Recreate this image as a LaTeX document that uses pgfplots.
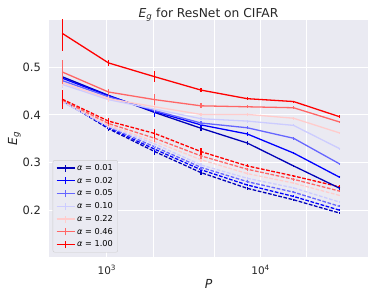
\documentclass[border=0pt]{standalone}
\usepackage{pgfplots}
\usepackage{pgfplotstable}
\pgfplotsset{compat=1.18}
\usepackage{fontspec}
\setmainfont{DejaVu Sans}
\definecolor{bgcol}{HTML}{EAEAF2}
\definecolor{txtcol}{HTML}{262626}
\definecolor{cmapA}{HTML}{0000B8}
\definecolor{cmapB}{HTML}{0000FF}
\definecolor{cmapC}{HTML}{6666FF}
\definecolor{cmapD}{HTML}{CCCCFF}
\definecolor{cmapE}{HTML}{FFCCCC}
\definecolor{cmapF}{HTML}{FF6666}
\definecolor{cmapG}{HTML}{FF0000}

\pgfplotstableread{
P     a1    e1    a2    e2    a3    e3    a4    e4    a5    e5    a6    e6    a7    e7
512   0.480 0.008 0.477 0.008 0.472 0.008 0.464 0.008 0.468 0.010 0.490 0.025 0.571 0.038
1024  0.441 0.004 0.440 0.004 0.438 0.004 0.432 0.005 0.434 0.006 0.448 0.007 0.509 0.006
2048  0.405 0.006 0.407 0.012 0.409 0.005 0.412 0.005 0.417 0.006 0.432 0.012 0.480 0.011
4096  0.372 0.006 0.379 0.005 0.383 0.004 0.392 0.003 0.401 0.004 0.419 0.005 0.452 0.005
8192  0.341 0.004 0.360 0.005 0.373 0.003 0.387 0.003 0.401 0.003 0.417 0.003 0.434 0.003
16384 0.293 0.002 0.320 0.002 0.351 0.003 0.378 0.002 0.393 0.003 0.415 0.003 0.428 0.002
32768 0.246 0.003 0.269 0.002 0.297 0.002 0.329 0.002 0.362 0.002 0.385 0.002 0.396 0.003
}\solid

\pgfplotstableread{
P     a1    e1    a2    e2    a3    e3    a4    e4    a5    e5    a6    e6    a7    e7
512   0.431 0.012 0.430 0.012 0.428 0.012 0.427 0.012 0.429 0.014 0.431 0.016 0.433 0.020
1024  0.371 0.004 0.373 0.004 0.375 0.004 0.376 0.005 0.378 0.005 0.382 0.006 0.387 0.006
2048  0.323 0.008 0.328 0.007 0.333 0.006 0.339 0.006 0.344 0.006 0.351 0.008 0.361 0.010
4096  0.279 0.006 0.285 0.005 0.290 0.005 0.295 0.004 0.306 0.004 0.314 0.006 0.323 0.007
8192  0.246 0.003 0.253 0.003 0.260 0.003 0.267 0.003 0.277 0.003 0.286 0.003 0.293 0.003
16384 0.222 0.002 0.229 0.002 0.238 0.002 0.247 0.002 0.257 0.002 0.265 0.003 0.272 0.003
32768 0.194 0.002 0.200 0.002 0.208 0.002 0.217 0.002 0.231 0.002 0.240 0.002 0.249 0.003
}\dashed

\begin{document}
\begin{tikzpicture}
\begin{axis}[
  scale only axis,
  width=319bp, height=237bp,
  xmode=log,
  xmin=420, xmax=50000,
  ymin=0.102, ymax=0.599,
  axis background/.style={fill=bgcol},
  axis line style={draw=none},
  tick style={draw=none},
  minor tick style={draw=none},
  xmajorgrids, ymajorgrids,
  grid style={white, line width=0.9pt},
  xtick={1000,10000},
  xticklabels={10\textsuperscript{3},10\textsuperscript{4}},
  extra x ticks={2000,5000,20000},
  extra x tick labels={},
  extra x tick style={grid=major},
  ytick={0.2,0.3,0.4,0.5},
  yticklabels={0.2,0.3,0.4,0.5},
  yticklabel style={font=\fontsize{11.5}{13}\selectfont, text=txtcol, anchor=east, inner sep=0pt, xshift=-8bp},
  xticklabel style={font=\fontsize{10.5}{12}\selectfont, text=txtcol, anchor=base, yshift=-17bp},
  xlabel={\textit{P}},
  xlabel style={at={(axis description cs:0.5,-0.1308)}, anchor=base, font=\fontsize{12.5}{14}\selectfont, text=txtcol},
  ylabel={\textit{E}\textsubscript{\textit{g}}},
  ylabel style={at={(axis description cs:-0.1003,0.5)}, anchor=base, font=\fontsize{12.5}{14}\selectfont, text=txtcol},
  legend cell align=left,
  legend style={at={(axis description cs:0.0116,0.019)}, anchor=south west,
    fill=bgcol, draw=black!20, rounded corners=2pt,
    font=\fontsize{8.2}{9.8}\selectfont, row sep=1.2pt},
  legend image code/.code={
    \draw[#1] (0bp,0bp) -- (18bp,0bp);
    \draw[#1] (9bp,-3.5bp) -- (9bp,3.5bp);
  },
  every axis plot/.append style={line width=1.3pt, mark=none, forget plot},
  sol/.style={error bars/y dir=both, error bars/y explicit, error bars/error mark=none, error bars/error bar style={solid, line width=1.1pt}},
  das/.style={dash pattern=on 3.7pt off 1.6pt, error bars/y dir=both, error bars/y explicit, error bars/error mark=none, error bars/error bar style={solid, line width=1.1pt}},
]
\addplot[draw=cmapA, das] table[x=P, y=a1, y error=e1] {\dashed};
\addplot[draw=cmapB, das] table[x=P, y=a2, y error=e2] {\dashed};
\addplot[draw=cmapC, das] table[x=P, y=a3, y error=e3] {\dashed};
\addplot[draw=cmapD, das] table[x=P, y=a4, y error=e4] {\dashed};
\addplot[draw=cmapE, das] table[x=P, y=a5, y error=e5] {\dashed};
\addplot[draw=cmapF, das] table[x=P, y=a6, y error=e6] {\dashed};
\addplot[draw=cmapG, das] table[x=P, y=a7, y error=e7] {\dashed};
\addplot[draw=cmapA, sol] table[x=P, y=a1, y error=e1] {\solid};
\addplot[draw=cmapB, sol] table[x=P, y=a2, y error=e2] {\solid};
\addplot[draw=cmapC, sol] table[x=P, y=a3, y error=e3] {\solid};
\addplot[draw=cmapD, sol] table[x=P, y=a4, y error=e4] {\solid};
\addplot[draw=cmapE, sol] table[x=P, y=a5, y error=e5] {\solid};
\addplot[draw=cmapF, sol] table[x=P, y=a6, y error=e6] {\solid};
\addplot[draw=cmapG, sol] table[x=P, y=a7, y error=e7] {\solid};
\addlegendimage{draw=cmapA, line width=1.3pt}\addlegendentry{\textit{α} = 0.01}
\addlegendimage{draw=cmapB, line width=1.3pt}\addlegendentry{\textit{α} = 0.02}
\addlegendimage{draw=cmapC, line width=1.3pt}\addlegendentry{\textit{α} = 0.05}
\addlegendimage{draw=cmapD, line width=1.3pt}\addlegendentry{\textit{α} = 0.10}
\addlegendimage{draw=cmapE, line width=1.3pt}\addlegendentry{\textit{α} = 0.22}
\addlegendimage{draw=cmapF, line width=1.3pt}\addlegendentry{\textit{α} = 0.46}
\addlegendimage{draw=cmapG, line width=1.3pt}\addlegendentry{\textit{α} = 1.00}
\end{axis}
\node[anchor=base, font=\fontsize{12.3}{14}\selectfont, text=txtcol] at (159.5bp,239.5bp) {\textit{E}\textsubscript{\textit{g}} for ResNet on CIFAR};
\pgfresetboundingbox
\path[use as bounding box] (-49bp,-40bp) rectangle (325bp,257bp);
\end{tikzpicture}
\end{document}
